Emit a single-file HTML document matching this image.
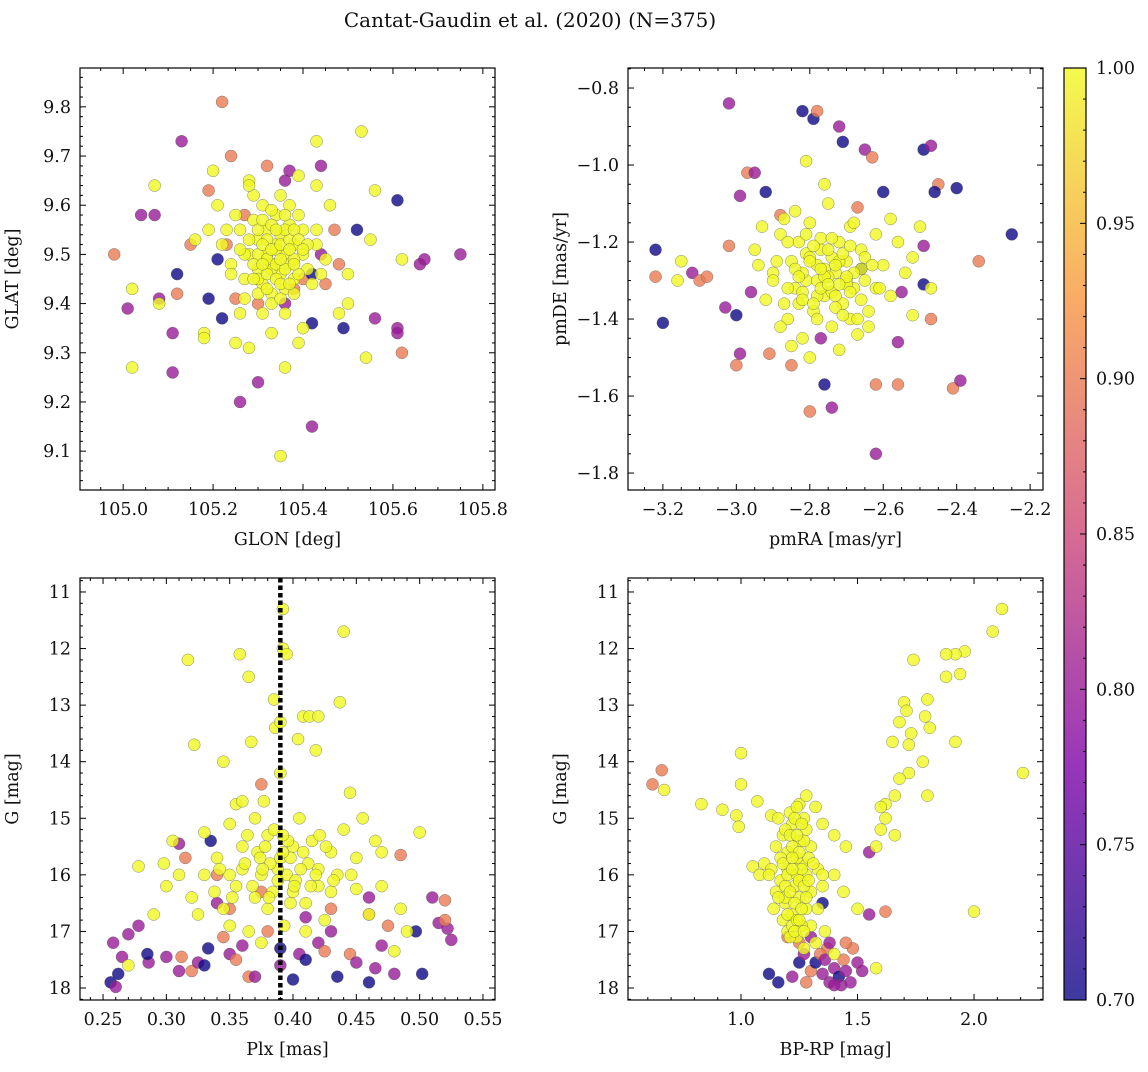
<!DOCTYPE html>
<html><head><meta charset="utf-8">
<style>
body{margin:0;background:#fff;}
svg text{font-family:"DejaVu Serif","Liberation Serif",serif;fill:#111;}
</style></head>
<body>
<svg id="fig" width="1148" height="1067" viewBox="0 0 1148 1067" xmlns="http://www.w3.org/2000/svg">
<rect width="1148" height="1067" fill="#fff"/>
<text x="530" y="27" font-size="20" text-anchor="middle">Cantat-Gaudin et al. (2020) (N=375)</text>
</svg>
<script>
// ---- Panel 1: GLON / GLAT ----
const tlColX=[104.98,105.01,105.04,105.07,105.08,105.11,105.11,105.12,105.12,105.13,105.15,105.19,105.19,105.21,105.22,105.22,105.23,105.24,105.25,105.26,105.27,105.3,105.3,105.32,105.36,105.37,105.42,105.42,105.44,105.45,105.47,105.48,105.49,105.52,105.56,105.61,105.61,105.61,105.62,105.66,105.67,105.75,105.40,105.42,105.38,105.36,105.44];
const tlColY=[9.50,9.39,9.58,9.58,9.41,9.26,9.34,9.42,9.46,9.73,9.52,9.41,9.63,9.49,9.37,9.81,9.52,9.70,9.41,9.20,9.58,9.24,9.40,9.68,9.65,9.67,9.15,9.36,9.68,9.44,9.55,9.48,9.35,9.55,9.37,9.61,9.35,9.34,9.30,9.48,9.49,9.50,9.45,9.46,9.43,9.40,9.50];
const tlColC=[0.9,0.8,0.8,0.8,0.8,0.8,0.8,0.9,0.7,0.8,0.9,0.7,0.9,0.7,0.7,0.9,0.9,0.9,0.9,0.8,0.9,0.8,0.9,0.9,0.8,0.8,0.8,0.7,0.8,0.9,0.9,0.9,0.7,0.7,0.8,0.7,0.8,0.8,0.9,0.8,0.8,0.8,0.9,0.7,0.9,0.8,0.8];
const tlMemX=[105.02,105.02,105.07,105.08,105.16,105.18,105.18,105.2,105.25,105.28,105.28,105.33,105.35,105.36,105.39,105.40,105.43,105.43,105.46,105.48,105.5,105.5,105.53,105.54,105.55,105.56,105.62,105.22,105.24,105.26,105.27,105.28,105.29,105.30,105.30,105.31,105.31,105.32,105.32,105.33,105.33,105.34,105.34,105.35,105.35,105.36,105.36,105.37,105.37,105.38,105.38,105.39,105.40,105.41,105.29,105.33,105.35,105.31,105.36,105.38,105.27,105.34,105.32,105.30,105.40,105.37,105.25,105.43,105.45,105.28,105.23,105.21,105.19,105.42,105.39,105.26,105.33,
105.30,105.31,105.32,105.33,105.34,105.35,105.36,105.37,105.38,105.39,105.30,105.32,105.34,105.36,105.38,105.29,105.31,105.33,105.35,105.37,105.39,105.41,105.28,105.30,105.32,105.34,105.36,105.38,105.40,105.33,105.35,105.31,105.37,105.29,105.27,105.43,105.44,105.26,105.24,105.35];
const tlMemY=[9.27,9.43,9.64,9.40,9.53,9.34,9.33,9.67,9.32,9.31,9.65,9.34,9.09,9.27,9.32,9.35,9.73,9.64,9.60,9.38,9.40,9.46,9.75,9.29,9.53,9.63,9.49,9.52,9.48,9.55,9.45,9.50,9.57,9.47,9.53,9.44,9.60,9.50,9.55,9.48,9.42,9.52,9.58,9.46,9.54,9.50,9.43,9.56,9.48,9.52,9.45,9.58,9.50,9.47,9.62,9.40,9.62,9.38,9.38,9.42,9.41,9.51,9.53,9.55,9.55,9.60,9.58,9.52,9.49,9.64,9.55,9.60,9.55,9.44,9.66,9.38,9.47,
9.50,9.52,9.49,9.51,9.48,9.52,9.47,9.53,9.49,9.46,9.45,9.46,9.45,9.55,9.55,9.48,9.57,9.56,9.44,9.44,9.53,9.52,9.53,9.42,9.43,9.55,9.58,9.48,9.51,9.59,9.41,9.48,9.51,9.45,9.50,9.55,9.46,9.51,9.46,9.49];
// ---- Panel 2: pmRA / pmDE ----
const trColX=[-3.22,-3.20,-3.22,-3.12,-3.10,-3.08,-3.02,-3.03,-3.02,-3.00,-3.00,-2.99,-2.99,-2.97,-2.95,-2.92,-2.91,-2.88,-2.85,-2.82,-2.79,-2.78,-2.80,-2.76,-2.74,-2.72,-2.71,-2.65,-2.63,-2.62,-2.62,-2.56,-2.56,-2.49,-2.47,-2.47,-2.45,-2.46,-2.40,-2.41,-2.39,-2.34,-2.25,-2.49,-2.49,-2.55,-2.60,-2.96,-2.67,-2.66,-2.77];
const trColY=[-1.22,-1.41,-1.29,-1.28,-1.30,-1.29,-0.84,-1.37,-1.21,-1.39,-1.52,-1.49,-1.08,-1.02,-1.02,-1.07,-1.49,-1.13,-1.52,-0.86,-0.88,-0.86,-1.64,-1.57,-1.63,-0.90,-0.94,-0.96,-0.98,-1.75,-1.57,-1.57,-1.46,-0.96,-0.95,-1.40,-1.05,-1.07,-1.06,-1.58,-1.56,-1.25,-1.18,-1.31,-1.21,-1.33,-1.07,-1.33,-1.11,-1.27,-1.45];
const trColC=[0.7,0.7,0.9,0.8,0.9,0.9,0.8,0.8,0.9,0.7,0.9,0.8,0.8,0.9,0.8,0.7,0.9,0.9,0.9,0.7,0.7,0.9,0.9,0.7,0.8,0.8,0.7,0.8,0.9,0.8,0.9,0.9,0.8,0.7,0.8,0.9,0.9,0.7,0.7,0.9,0.8,0.9,0.7,0.7,0.8,0.8,0.7,0.8,0.9,0.7,0.8];
const trMemX=[-3.15,-3.16,-2.47,-2.50,-2.52,-2.87,-2.81,-2.94,-2.95,-2.92,-2.90,-2.88,-2.86,-2.85,-2.84,-2.83,-2.82,-2.81,-2.80,-2.79,-2.78,-2.77,-2.76,-2.75,-2.74,-2.73,-2.72,-2.71,-2.70,-2.69,-2.68,-2.67,-2.66,-2.65,-2.64,-2.62,-2.60,-2.58,-2.56,-2.54,-2.52,-2.88,-2.84,-2.80,-2.76,-2.72,-2.68,-2.64,-2.78,-2.74,-2.70,-2.82,-2.86,-2.62,-2.58,-2.90,-2.93,-2.77,-2.73,-2.69,-2.81,-2.85,-2.66,
-2.84,-2.82,-2.80,-2.78,-2.76,-2.74,-2.72,-2.70,-2.68,-2.66,-2.83,-2.79,-2.75,-2.71,-2.67,-2.81,-2.77,-2.73,-2.69,-2.65,-2.86,-2.82,-2.78,-2.74,-2.70,-2.80,-2.76,-2.72,-2.75,-2.79,-2.71,-2.87,-2.63,-2.61,-2.89,-2.77,-2.73,-2.83,-2.69,-2.75];
const trMemY=[-1.25,-1.30,-1.32,-1.16,-1.39,-1.14,-0.99,-1.26,-1.22,-1.35,-1.28,-1.18,-1.40,-1.25,-1.32,-1.20,-1.45,-1.30,-1.15,-1.38,-1.26,-1.22,-1.34,-1.10,-1.42,-1.28,-1.20,-1.36,-1.25,-1.16,-1.32,-1.44,-1.22,-1.30,-1.38,-1.18,-1.26,-1.34,-1.20,-1.28,-1.24,-1.42,-1.12,-1.50,-1.05,-1.48,-1.15,-1.42,-1.34,-1.24,-1.30,-1.28,-1.32,-1.32,-1.14,-1.30,-1.16,-1.19,-1.37,-1.40,-1.23,-1.47,-1.27,
-1.27,-1.33,-1.24,-1.30,-1.27,-1.33,-1.25,-1.31,-1.28,-1.35,-1.36,-1.21,-1.29,-1.23,-1.40,-1.18,-1.32,-1.26,-1.33,-1.24,-1.20,-1.35,-1.40,-1.19,-1.29,-1.25,-1.29,-1.31,-1.22,-1.36,-1.39,-1.36,-1.26,-1.32,-1.25,-1.27,-1.34,-1.29,-1.21,-1.31];
// ---- Panel 3: Plx / G ----
const blColX=[0.258,0.256,0.26,0.262,0.265,0.27,0.278,0.286,0.285,0.30,0.31,0.312,0.315,0.31,0.32,0.325,0.33,0.333,0.335,0.34,0.345,0.35,0.355,0.36,0.365,0.37,0.375,0.38,0.39,0.39,0.40,0.405,0.41,0.42,0.425,0.43,0.435,0.445,0.45,0.46,0.465,0.47,0.475,0.48,0.485,0.497,0.502,0.51,0.515,0.52,0.522,0.525,0.52,0.46,0.46,0.375,0.35,0.34,0.41,0.43];
const blColY=[17.2,17.9,17.98,17.75,17.45,17.05,16.9,17.55,17.4,17.45,17.7,17.45,15.7,15.45,17.7,17.55,17.6,17.3,15.4,16.5,17.1,17.4,17.5,17.25,17.8,17.8,16.3,17.0,17.3,17.6,17.85,17.4,17.5,17.2,17.35,17.0,17.8,17.4,17.55,17.9,17.65,17.25,16.9,17.75,15.65,17.0,17.75,16.4,16.85,16.45,16.95,17.15,16.8,16.4,16.7,14.4,16.6,16.0,16.75,16.6];
const blColC=[0.8,0.7,0.8,0.7,0.8,0.8,0.8,0.8,0.7,0.8,0.8,0.9,0.9,0.8,0.9,0.8,0.7,0.7,0.7,0.8,0.9,0.8,0.9,0.8,0.9,0.8,0.9,0.9,0.7,0.8,0.7,0.8,0.7,0.8,0.9,0.8,0.7,0.9,0.8,0.7,0.8,0.8,0.9,0.8,0.9,0.7,0.7,0.8,0.8,0.9,0.8,0.8,0.9,0.8,0.9,0.9,0.9,0.9,0.8,0.9];
const blMemX=[0.317,0.322,0.358,0.365,0.385,0.392,0.392,0.395,0.386,0.390,0.404,0.408,0.413,0.42,0.418,0.437,0.44,0.345,0.367,0.39,0.377,0.355,0.35,0.33,0.305,0.298,0.30,0.445,0.465,0.47,0.50,0.485,0.48,0.49,0.46,0.45,0.435,0.42,0.415,0.405,0.37,0.36,0.34,0.33,0.32,0.345,0.38,0.40,0.43,0.44,0.36,0.39,0.38,0.355,0.375,0.395,0.41,0.425,0.365,0.45,0.47,0.31,0.325,0.27,0.278,0.29,0.35,0.375,0.385,0.40,0.42,0.455,0.36,0.37,0.393,0.41,0.388,0.35,0.43,
0.372,0.382,0.398,0.402,0.412,0.378,0.388,0.396,0.368,0.408,0.418,0.362,0.392,0.384,0.374,0.414,0.426,0.352,0.342,0.432,0.446,0.338,0.398,0.406,0.381,0.364,0.421,0.392,0.376,0.401];
const blMemY=[12.2,13.7,12.1,12.5,12.9,11.3,12.0,12.1,13.4,13.3,13.6,13.2,13.2,13.2,13.8,12.95,11.7,14.0,13.65,14.2,14.7,14.75,15.1,15.25,15.4,15.8,16.2,14.55,15.4,15.6,15.25,16.6,17.35,17.0,16.7,16.25,16.0,15.9,15.4,15.0,15.0,15.5,15.7,16.0,16.4,16.6,16.6,16.3,15.6,15.2,15.9,15.7,15.3,16.2,16.0,16.0,16.5,16.8,17.0,15.7,16.2,16.0,16.7,17.6,15.85,16.7,16.9,17.2,15.2,15.5,16.2,15.0,14.7,16.4,16.9,17.0,15.9,16.0,16.3,
15.6,15.8,15.7,16.1,15.8,15.5,16.1,15.4,16.2,15.6,16.0,15.8,15.3,16.3,15.7,16.2,15.5,16.4,15.9,16.1,16.0,16.3,16.5,15.9,16.4,15.3,15.3,15.6,15.9,16.2];
const plxRef=[0.39];
// ---- Panel 4: BP-RP / G ----
const brColX=[0.62,0.66,1.12,1.16,1.22,1.25,1.27,1.3,1.32,1.35,1.37,1.38,1.4,1.42,1.43,1.44,1.45,1.47,1.48,1.5,1.52,1.35,1.55,1.55,1.62,1.2,1.25,1.3,1.34,1.36,1.28,1.38,1.45,1.4];
const brColY=[14.4,14.15,17.75,17.9,17.8,17.55,17.4,17.7,17.55,17.75,17.3,17.9,17.65,17.8,17.95,17.5,17.7,17.9,17.3,17.55,17.7,16.5,15.6,16.7,16.65,17.1,17.2,17.1,17.4,17.5,17.9,17.2,17.2,17.95];
const brColC=[0.9,0.9,0.7,0.7,0.8,0.7,0.8,0.9,0.7,0.8,0.9,0.8,0.8,0.7,0.8,0.9,0.8,0.8,0.9,0.8,0.8,0.7,0.8,0.8,0.9,0.9,0.9,0.8,0.9,0.8,0.9,0.8,0.9,0.8];
const brMemX=[0.67,2.12,2.08,1.96,1.92,1.88,1.94,1.88,1.80,1.79,1.81,1.92,1.74,1.70,1.71,1.68,1.73,1.72,1.72,1.78,1.80,1.68,1.66,1.62,1.6,1.6,1.58,1.65,1.66,1.62,2.21,0.83,0.92,0.98,0.99,1.0,1.0,1.07,1.13,1.25,1.28,1.32,1.35,1.4,1.45,2.0,1.58,1.15,1.18,1.2,1.22,1.25,1.2,1.17,1.23,1.26,1.28,1.15,1.19,1.22,1.25,1.28,1.3,1.2,1.24,1.27,1.32,1.1,1.13,1.05,1.08,1.21,1.24,1.28,1.3,1.33,1.35,1.3,1.18,1.14,1.12,1.16,1.27,1.33,1.36,1.4,1.26,1.22,1.19,1.24,1.29,1.17,1.35,1.5,1.44,1.4,
1.19,1.21,1.23,1.25,1.27,1.18,1.20,1.22,1.24,1.26,1.19,1.21,1.23,1.25,1.27,1.20,1.22,1.24,1.26,1.28,1.21,1.23,1.25,1.27,1.22,1.24,1.26,1.16,1.29,1.31];
const brMemY=[14.5,11.3,11.7,12.05,12.1,12.1,12.45,12.5,12.9,13.2,13.4,13.65,12.2,12.95,13.1,13.3,13.5,13.7,14.2,14.0,14.6,14.3,14.6,14.75,14.8,15.2,15.5,13.65,15.3,15.0,14.2,14.75,14.85,14.95,15.15,13.85,14.4,14.7,14.95,14.75,14.6,14.8,15.1,15.3,15.5,16.65,17.65,15.5,15.3,15.6,15.1,15.4,15.9,16.1,16.2,15.8,16.0,16.3,16.5,16.7,16.4,16.6,16.9,17.0,17.1,17.3,17.2,15.8,15.9,15.85,16.0,14.9,14.8,15.2,15.5,15.9,16.2,16.3,16.8,16.6,16.0,15.0,15.0,16.6,17.0,17.4,16.9,15.5,16.2,15.7,15.7,15.7,16.0,16.6,16.3,16.0,
15.2,15.3,15.0,15.6,15.4,15.8,16.0,15.7,16.0,15.9,16.4,16.3,16.5,16.1,16.2,16.7,16.9,16.8,16.6,16.4,17.1,17.0,16.8,17.0,15.9,15.3,15.1,16.4,16.1,15.8];
// colorbar ticks
const cbTicks=["0.70","0.75","0.80","0.85","0.90","0.95","1.00"];

const NS="http://www.w3.org/2000/svg";
const svg=document.getElementById('fig');
function mk(tag,attrs,parent){const e=document.createElementNS(NS,tag);for(const k in attrs)e.setAttribute(k,attrs[k]);(parent||svg).appendChild(e);return e;}
const stops=[[0,[13,8,135]],[0.25,[126,3,168]],[0.5,[204,71,120]],[0.75,[248,149,64]],[1,[240,249,33]]];
function plasma(t){t=Math.max(0,Math.min(1,t));for(let i=1;i<stops.length;i++){if(t<=stops[i][0]){const a=stops[i-1],b=stops[i];const f=(t-a[0])/(b[0]-a[0]);const c=a[1].map((v,j)=>Math.round(v+(b[1][j]-v)*f));return `rgb(${c[0]},${c[1]},${c[2]})`;}}return 'rgb(240,249,33)';}
function cmap(v){return plasma((v-0.7)/0.3);}

function panel(o){
  const g=mk('g',{});
  
  
  const sx=v=>o.x0+(v-o.xd[0])/(o.xd[1]-o.xd[0])*(o.x1-o.x0);
  const sy=v=>o.y0+(v-o.yd[0])/(o.yd[1]-o.yd[0])*(o.y1-o.y0);
  const clip='clip-'+o.name;
  const cp=mk('clipPath',{id:clip},g);mk('rect',{x:o.x0,y:o.y0,width:o.x1-o.x0,height:o.y1-o.y0},cp);
  const pts=mk('g',{'clip-path':`url(#${clip})`},g);
  function dot(x,y,c){const e=mk('circle',{cx:sx(x),cy:sy(y),r:6,fill:cmap(c),'fill-opacity':0.8,stroke:'#555','stroke-width':0.5,'stroke-opacity':0.7},pts);
    
    }
  o.cx.forEach((x,i)=>dot(x,o.cy[i],o.cc[i]));
  o.mx.forEach((x,i)=>dot(x,o.my[i],1));
  if(o.vline){o.vline.forEach(v=>{const l=mk('line',{x1:sx(v),x2:sx(v),y1:o.y0,y2:o.y1,stroke:'#000','stroke-width':4.5,'stroke-dasharray':'4.5 3'},pts);
    
    });}
  mk('rect',{x:o.x0,y:o.y0,width:o.x1-o.x0,height:o.y1-o.y0,fill:'none',stroke:'#000','stroke-width':1.2},g);
  const eps=1e-9;
  for(let v=Math.ceil(o.xd[0]/o.xmin-eps)*o.xmin;v<=o.xd[1]+eps;v+=o.xmin){
    const major=Math.abs(v/o.xmaj-Math.round(v/o.xmaj))<1e-6;const L=major?6:3;const X=sx(v);
    mk('line',{x1:X,x2:X,y1:o.y1,y2:o.y1-L,stroke:'#000'},g);mk('line',{x1:X,x2:X,y1:o.y0,y2:o.y0+L,stroke:'#000'},g);
    if(major){const t=mk('text',{x:X,y:o.y1+25,'font-size':17.5,'text-anchor':'middle'},g);t.textContent=(Math.abs(v)<eps?0:v).toFixed(o.xdec).replace('-','\u2212');
      
      }
  }
  for(let v=Math.ceil(Math.min(...o.yd)/o.ymin-eps)*o.ymin;v<=Math.max(...o.yd)+eps;v+=o.ymin){
    const major=Math.abs(v/o.ymaj-Math.round(v/o.ymaj))<1e-6;const L=major?6:3;const Y=sy(v);
    mk('line',{x1:o.x0,x2:o.x0+L,y1:Y,y2:Y,stroke:'#000'},g);mk('line',{x1:o.x1,x2:o.x1-L,y1:Y,y2:Y,stroke:'#000'},g);
    if(major){const t=mk('text',{x:o.x0-9,y:Y+6,'font-size':17.5,'text-anchor':'end'},g);t.textContent=v.toFixed(o.ydec).replace('-','\u2212');
      
      }
  }
  const xl=mk('text',{x:(o.x0+o.x1)/2,y:o.y1+55,'font-size':17.5,'text-anchor':'middle'},g);xl.textContent=o.xlabel;
  
  
  const yx=o.x0-62,yy=(o.y0+o.y1)/2;
  const yl=mk('text',{x:yx,y:yy,'font-size':17.5,'text-anchor':'middle',transform:`rotate(-90 ${yx} ${yy})`},g);yl.textContent=o.ylabel;
  
  
}
panel({name:'glon-glat-panel',x0:80,x1:495,y0:68,y1:490,xd:[104.904,105.827],yd:[9.879,9.021],xmaj:0.2,xmin:0.05,ymaj:0.1,ymin:0.02,xdec:1,ydec:1,xlabel:'GLON [deg]',ylabel:'GLAT [deg]',cx:tlColX,cy:tlColY,cc:tlColC,mx:tlMemX,my:tlMemY});
panel({name:'proper-motion-panel',x0:628,x1:1043,y0:68,y1:490,xd:[-3.295,-2.165],yd:[-0.748,-1.844],xmaj:0.2,xmin:0.05,ymaj:0.2,ymin:0.05,xdec:1,ydec:1,xlabel:'pmRA [mas/yr]',ylabel:'pmDE [mas/yr]',cx:trColX,cy:trColY,cc:trColC,mx:trMemX,my:trMemY});
panel({name:'parallax-mag-panel',x0:80,x1:495,y0:578,y1:1000,xd:[0.2318,0.5595],yd:[10.753,18.212],xmaj:0.05,xmin:0.01,ymaj:1,ymin:0.2,xdec:2,ydec:0,xlabel:'Plx [mas]',ylabel:'G [mag]',cx:blColX,cy:blColY,cc:blColC,mx:blMemX,my:blMemY,vline:plxRef});
panel({name:'cmd-panel',x0:628,x1:1043,y0:578,y1:1000,xd:[0.515,2.296],yd:[10.753,18.212],xmaj:0.5,xmin:0.1,ymaj:1,ymin:0.2,xdec:1,ydec:0,xlabel:'BP-RP [mag]',ylabel:'G [mag]',cx:brColX,cy:brColY,cc:brColC,mx:brMemX,my:brMemY});

const cb=mk('g',{});


const defs=mk('defs',{},cb);const lg=mk('linearGradient',{id:'cbg',x1:0,y1:1,x2:0,y2:0},defs);
for(let i=0;i<=20;i++){mk('stop',{offset:i/20,'stop-color':plasma(i/20),'stop-opacity':0.8},lg);}
const cbx0=1064,cbx1=1086,cby0=68,cby1=1000;
mk('rect',{x:cbx0,y:cby0,width:cbx1-cbx0,height:cby1-cby0,fill:'url(#cbg)',stroke:'#000','stroke-width':1.2},cb);
const cy=v=>cby1-(v-0.7)/0.3*(cby1-cby0);
for(let k=70;k<=100;k++){const v=k/100,Y=cy(v),major=k%5===0;
  mk('line',{x1:cbx1,x2:cbx1-(major?6:3),y1:Y,y2:Y,stroke:'#000'},cb);}
cbTicks.forEach(s=>{const t=mk('text',{x:cbx1+10,y:cy(parseFloat(s))+6,'font-size':17.5},cb);t.textContent=s;
  
  });
</script>
</body></html>
